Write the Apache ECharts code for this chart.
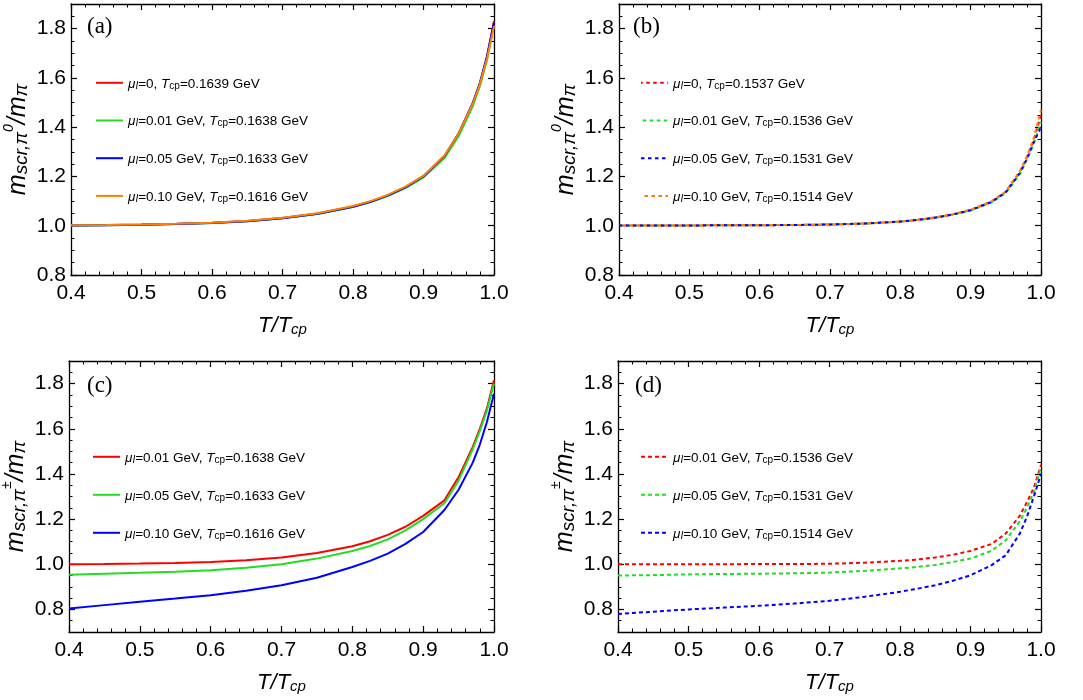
<!DOCTYPE html>
<html>
<head>
<meta charset="utf-8">
<script src="https://cdn.jsdelivr.net/npm/echarts@6/dist/echarts.min.js"></script>
<style>
  html, body { margin: 0; padding: 0; background: #fff; }
  #chart { width: 1083px; height: 700px; }
</style>
</head>
<body>
<div id="chart"></div>
<script>
// Reduced temperature T/T_cp shared by every curve
const T = [0.40, 0.45, 0.50, 0.55, 0.60, 0.65, 0.70, 0.75, 0.80, 0.825, 0.85, 0.875, 0.90, 0.93, 0.95, 0.97, 0.98, 0.99, 1.00];

// (a) neutral pion screening mass, chiral crossover
const a_mu000 = [1.002, 1.003, 1.005, 1.008, 1.012, 1.019, 1.031, 1.050, 1.078, 1.098, 1.124, 1.157, 1.200, 1.282, 1.372, 1.495, 1.575, 1.682, 1.830];
const a_mu001 = [1.001, 1.002, 1.004, 1.007, 1.011, 1.018, 1.030, 1.048, 1.076, 1.096, 1.121, 1.154, 1.196, 1.276, 1.364, 1.486, 1.566, 1.672, 1.815];
const a_mu005 = [1.001, 1.002, 1.004, 1.007, 1.011, 1.018, 1.030, 1.049, 1.077, 1.097, 1.123, 1.157, 1.201, 1.284, 1.376, 1.500, 1.580, 1.688, 1.825];
const a_mu010 = [1.002, 1.003, 1.005, 1.008, 1.012, 1.020, 1.032, 1.051, 1.080, 1.100, 1.126, 1.160, 1.203, 1.286, 1.375, 1.496, 1.575, 1.678, 1.810];

// (b) neutral pion screening mass, second parameter set
const b_mu000 = [1.001, 1.001, 1.001, 1.002, 1.002, 1.003, 1.005, 1.009, 1.017, 1.024, 1.033, 1.046, 1.064, 1.098, 1.138, 1.218, 1.278, 1.350, 1.450];
const b_mu001 = [1.001, 1.001, 1.001, 1.002, 1.002, 1.003, 1.005, 1.009, 1.016, 1.023, 1.032, 1.045, 1.062, 1.095, 1.133, 1.210, 1.268, 1.335, 1.420];
const b_mu005 = [1.001, 1.001, 1.001, 1.002, 1.002, 1.003, 1.005, 1.009, 1.017, 1.024, 1.033, 1.046, 1.063, 1.097, 1.136, 1.214, 1.272, 1.340, 1.400];
const b_mu010 = [1.001, 1.001, 1.001, 1.002, 1.002, 1.003, 1.005, 1.009, 1.017, 1.024, 1.034, 1.047, 1.065, 1.100, 1.140, 1.222, 1.282, 1.358, 1.470];

// (c) charged pion screening mass
const c_mu001 = [1.000, 1.001, 1.003, 1.006, 1.010, 1.018, 1.030, 1.050, 1.080, 1.102, 1.130, 1.166, 1.214, 1.283, 1.386, 1.520, 1.600, 1.690, 1.815];
const c_mu005 = [0.954, 0.958, 0.962, 0.967, 0.973, 0.984, 1.000, 1.025, 1.059, 1.081, 1.110, 1.150, 1.200, 1.270, 1.370, 1.510, 1.590, 1.680, 1.800];
const c_mu010 = [0.804, 0.819, 0.834, 0.848, 0.863, 0.883, 0.907, 0.940, 0.988, 1.015, 1.047, 1.090, 1.143, 1.240, 1.330, 1.450, 1.530, 1.630, 1.755];

// (d) charged pion screening mass, second parameter set
const d_mu001 = [1.000, 1.000, 1.000, 1.000, 1.001, 1.001, 1.002, 1.007, 1.015, 1.021, 1.030, 1.042, 1.059, 1.090, 1.136, 1.215, 1.275, 1.340, 1.440];
const d_mu005 = [0.950, 0.952, 0.955, 0.957, 0.958, 0.960, 0.963, 0.971, 0.982, 0.988, 0.997, 1.010, 1.025, 1.060, 1.106, 1.190, 1.250, 1.320, 1.430];
const d_mu010 = [0.780, 0.790, 0.800, 0.808, 0.816, 0.826, 0.838, 0.856, 0.878, 0.892, 0.907, 0.927, 0.951, 0.996, 1.040, 1.136, 1.210, 1.300, 1.400];

// Legend values: isospin chemical potential and pseudo-critical temperature
const muAll = ['0', '0.01 GeV', '0.05 GeV', '0.10 GeV'];
const muCharged = ['0.01 GeV', '0.05 GeV', '0.10 GeV'];
const tcpA = ['0.1639', '0.1638', '0.1633', '0.1616'];
const tcpB = ['0.1537', '0.1536', '0.1531', '0.1514'];
const tcpC = ['0.1638', '0.1633', '0.1616'];
const tcpD = ['0.1536', '0.1531', '0.1514'];

// Axis ticks
const xMin = 0.4, xMax = 1.0, xStep = 0.1;
const yMajorTicks = [0.8, 1.0, 1.2, 1.4, 1.6, 1.8];
const yMinorStep = 0.05;
const yMax = 1.9;

const RED = '#ff0000', GREEN = '#22dd22', BLUE = '#0000ff', ORANGE = '#ff8000';
const SANS = 'Liberation Sans';

const panels = [
  { tag: '(a)', grid: { left: 71, top: 4, width: 423, height: 271 }, yMin: 0.8, sup: '0',
    dash: null, tagPos: { left: 87, top: 15 }, legendPos: { left: 95, top: 76.4, gap: 23.3 },
    curves: [a_mu000, a_mu001, a_mu005, a_mu010], colors: [RED, GREEN, BLUE, ORANGE],
    mu: muAll, tcp: tcpA },
  { tag: '(b)', grid: { left: 619, top: 4, width: 422, height: 271 }, yMin: 0.8, sup: '0',
    dash: [3.5, 3.5], tagPos: { left: 633, top: 15 }, legendPos: { left: 640, top: 76.4, gap: 23.3 },
    curves: [b_mu000, b_mu001, b_mu005, b_mu010], colors: [RED, GREEN, BLUE, ORANGE],
    dashOffsets: [1.75, 5.25, 0, 3.5],
    mu: muAll, tcp: tcpB },
  { tag: '(c)', grid: { left: 69, top: 361, width: 425, height: 271 }, yMin: 0.7, sup: '±',
    dash: null, tagPos: { left: 87, top: 374 }, legendPos: { left: 92, top: 450.4, gap: 23.6 },
    curves: [c_mu001, c_mu005, c_mu010], colors: [RED, GREEN, BLUE],
    mu: muCharged, tcp: tcpC },
  { tag: '(d)', grid: { left: 618, top: 361, width: 423, height: 271 }, yMin: 0.7, sup: '±',
    dash: [4, 3], tagPos: { left: 635, top: 374 }, legendPos: { left: 640, top: 450.4, gap: 23.6 },
    curves: [d_mu001, d_mu005, d_mu010], colors: [RED, GREEN, BLUE],
    mu: muCharged, tcp: tcpD }
];

const frame = { color: '#000', width: 1.3 };
const majorTickLen = 6, minorTickLen = 3.5;

const yNameRich = {
  m:   { fontFamily: SANS, fontSize: 25, fontStyle: 'italic', color: '#000', lineHeight: 29, verticalAlign: 'bottom' },
  s:   { fontFamily: SANS, fontSize: 19, fontStyle: 'italic', color: '#000', lineHeight: 14.4, verticalAlign: 'bottom' },
  sup: { fontFamily: SANS, fontSize: 14, fontStyle: 'italic', color: '#000', lineHeight: 20.4, verticalAlign: 'top' }
};
const xNameRich = {
  T: { fontFamily: SANS, fontSize: 22, fontStyle: 'italic', color: '#000', lineHeight: 26, verticalAlign: 'bottom' },
  s: { fontFamily: SANS, fontSize: 15, fontStyle: 'italic', color: '#000', lineHeight: 13.2, verticalAlign: 'bottom' }
};
const legendRich = {
  mu: { fontFamily: SANS, fontSize: 13.5, fontStyle: 'italic', color: '#000', lineHeight: 16, verticalAlign: 'bottom' },
  sI: { fontFamily: SANS, fontSize: 10, fontStyle: 'italic', color: '#000', lineHeight: 8.6, verticalAlign: 'bottom' },
  t:  { fontFamily: SANS, fontSize: 13.5, color: '#000', lineHeight: 16, verticalAlign: 'bottom' },
  it: { fontFamily: SANS, fontSize: 13.5, fontStyle: 'italic', color: '#000', lineHeight: 16, verticalAlign: 'bottom' },
  s:  { fontFamily: SANS, fontSize: 10, color: '#000', lineHeight: 8.6, verticalAlign: 'bottom' }
};

const legendText = {};
const option = {
  animation: false,
  backgroundColor: '#fff',
  grid: [], xAxis: [], yAxis: [], series: [], legend: [], title: []
};

panels.forEach((p, i) => {
  option.grid.push(Object.assign({ outerBoundsMode: 'none', containLabel: false }, p.grid));

  const xCommon = {
    type: 'value', gridIndex: i, min: xMin, max: xMax, interval: xStep,
    axisLine: { show: true, onZero: false, lineStyle: frame },
    axisTick: { show: true, inside: true, length: majorTickLen, lineStyle: { color: '#000', width: 1.2 } },
    minorTick: { show: true, splitNumber: 5, length: minorTickLen, lineStyle: { color: '#000', width: 1 } },
    splitLine: { show: false }, minorSplitLine: { show: false }
  };
  option.xAxis.push(Object.assign({}, xCommon, {
    position: 'bottom',
    axisLabel: { show: true, margin: 8, fontSize: 21, fontFamily: SANS, color: '#000',
                 showMinLabel: true, showMaxLabel: true, formatter: v => v.toFixed(1) },
    name: '{T|T/T}{s|cp}', nameLocation: 'middle', nameGap: 36,
    nameTextStyle: { rich: xNameRich }
  }));
  option.xAxis.push(Object.assign({}, xCommon, { position: 'top', axisLabel: { show: false } }));

  const yMajor = (pos, withLabels) => ({
    type: 'value', gridIndex: i, position: pos, min: p.yMin, max: yMax, interval: yMinorStep,
    axisLine: { show: true, onZero: false, lineStyle: frame },
    axisTick: { show: true, inside: true, length: majorTickLen, customValues: yMajorTicks,
                lineStyle: { color: '#000', width: 1.2 } },
    axisLabel: withLabels
      ? { show: true, margin: 5, fontSize: 21, fontFamily: SANS, color: '#000',
          customValues: yMajorTicks, formatter: v => v.toFixed(1) }
      : { show: false },
    splitLine: { show: false },
    name: withLabels ? '{m|m}{s|scr,π}{sup|' + p.sup + '}{m|/m}{s|π}' : '',
    nameLocation: 'middle', nameRotate: 90, nameGap: 40,
    nameTextStyle: { rich: yNameRich }
  });
  const yMinor = (pos) => ({
    type: 'value', gridIndex: i, position: pos, min: p.yMin, max: yMax, interval: yMinorStep,
    axisLine: { show: false },
    axisTick: { show: true, inside: true, length: minorTickLen, lineStyle: { color: '#000', width: 1 } },
    axisLabel: { show: false }, splitLine: { show: false }
  });
  const yBase = option.yAxis.length;
  option.yAxis.push(yMajor('left', true), yMinor('left'), yMajor('right', false), yMinor('right'));

  const names = [];
  p.curves.forEach((ys, k) => {
    const name = p.tag + k;
    names.push(name);
    legendText[name] = '{mu|μ}{sI|I}{t|=' + p.mu[k] + ', }{it|T}{s|cp}{t|=' + p.tcp[k] + ' GeV}';
    option.series.push({
      type: 'line', name: name,
      xAxisIndex: 2 * i, yAxisIndex: yBase,
      data: T.map((x, j) => [x, ys[j]]),
      symbol: 'none', showSymbol: false,
      smooth: false,
      itemStyle: { color: p.colors[k] },
      lineStyle: {
        color: p.colors[k], width: 2,
        type: p.dash ? p.dash : 'solid',
        dashOffset: p.dashOffsets ? p.dashOffsets[k] : 0
      },
      emphasis: { disabled: true },
      z: 3 + k
    });
  });

  option.legend.push({
    orient: 'vertical', left: p.legendPos.left, top: p.legendPos.top, padding: 0,
    itemWidth: 27, itemHeight: 16, itemGap: p.legendPos.gap, selectedMode: false,
    itemStyle: { opacity: 0 },
    data: names, formatter: n => legendText[n],
    textStyle: { fontSize: 13.5, fontFamily: SANS, color: '#000', rich: legendRich }
  });

  option.title.push({
    text: p.tag, left: p.tagPos.left, top: p.tagPos.top, padding: 0,
    textStyle: { fontFamily: 'Liberation Serif', fontSize: 23, fontWeight: 'normal', color: '#000' }
  });
});

const chart = echarts.init(document.getElementById('chart'), null, { renderer: 'canvas' });
chart.setOption(option);
</script>
</body>
</html>
